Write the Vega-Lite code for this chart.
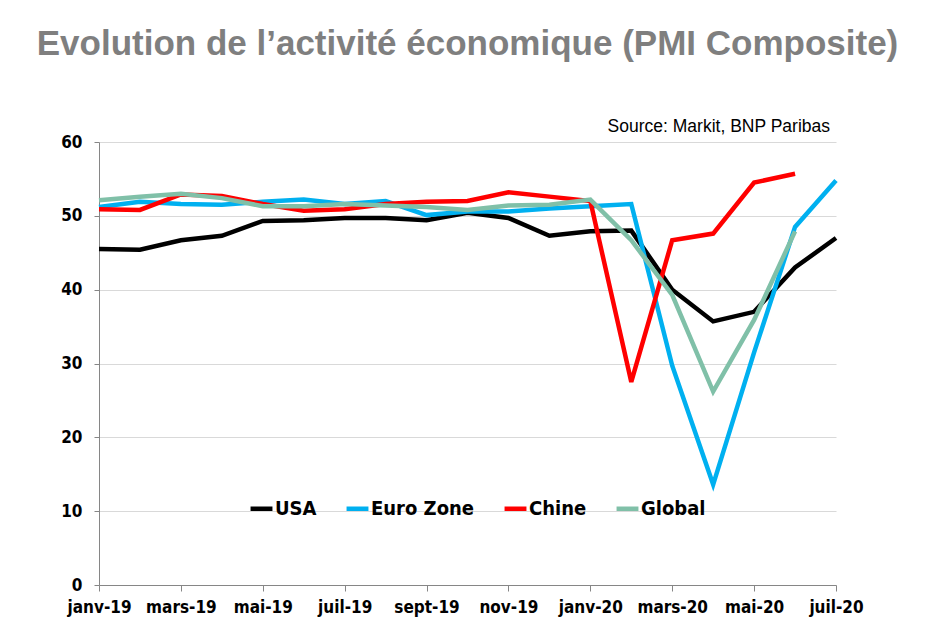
{
  "$schema": "https://vega.github.io/schema/vega-lite/v6.json",
  "width": 737,
  "height": 443,
  "autosize": "none",
  "padding": {"left": 99, "top": 142, "right": 90, "bottom": 50},
  "background": "white",
  "title": {
    "text": "Evolution de l\u2019activit\u00e9 \u00e9conomique (PMI Composite)",
    "font": "Liberation Sans",
    "fontSize": 35,
    "fontWeight": "bold",
    "color": "#7f7f7f",
    "anchor": "middle",
    "frame": "group",
    "offset": 56
  },
  "data": {"values": [
    {"m": "janv-19", "s": "USA", "v": 45.5}, {"m": "févr-19", "s": "USA", "v": 45.4}, {"m": "mars-19", "s": "USA", "v": 46.7}, {"m": "avr-19", "s": "USA", "v": 47.3}, {"m": "mai-19", "s": "USA", "v": 49.3}, {"m": "juin-19", "s": "USA", "v": 49.4}, {"m": "juil-19", "s": "USA", "v": 49.7}, {"m": "août-19", "s": "USA", "v": 49.7}, {"m": "sept-19", "s": "USA", "v": 49.4}, {"m": "oct-19", "s": "USA", "v": 50.4}, {"m": "nov-19", "s": "USA", "v": 49.7}, {"m": "déc-19", "s": "USA", "v": 47.3}, {"m": "janv-20", "s": "USA", "v": 47.9}, {"m": "févr-20", "s": "USA", "v": 48.0}, {"m": "mars-20", "s": "USA", "v": 40.0}, {"m": "avr-20", "s": "USA", "v": 35.7}, {"m": "mai-20", "s": "USA", "v": 37.0}, {"m": "juin-20", "s": "USA", "v": 43.0}, {"m": "juil-20", "s": "USA", "v": 47.0},
    {"m": "janv-19", "s": "Euro Zone", "v": 51.2}, {"m": "févr-19", "s": "Euro Zone", "v": 51.9}, {"m": "mars-19", "s": "Euro Zone", "v": 51.6}, {"m": "avr-19", "s": "Euro Zone", "v": 51.5}, {"m": "mai-19", "s": "Euro Zone", "v": 51.9}, {"m": "juin-19", "s": "Euro Zone", "v": 52.2}, {"m": "juil-19", "s": "Euro Zone", "v": 51.6}, {"m": "août-19", "s": "Euro Zone", "v": 52.0}, {"m": "sept-19", "s": "Euro Zone", "v": 50.1}, {"m": "oct-19", "s": "Euro Zone", "v": 50.6}, {"m": "nov-19", "s": "Euro Zone", "v": 50.6}, {"m": "déc-19", "s": "Euro Zone", "v": 51.0}, {"m": "janv-20", "s": "Euro Zone", "v": 51.3}, {"m": "févr-20", "s": "Euro Zone", "v": 51.6}, {"m": "mars-20", "s": "Euro Zone", "v": 29.7}, {"m": "avr-20", "s": "Euro Zone", "v": 13.6}, {"m": "mai-20", "s": "Euro Zone", "v": 31.5}, {"m": "juin-20", "s": "Euro Zone", "v": 48.5}, {"m": "juil-20", "s": "Euro Zone", "v": 54.8},
    {"m": "janv-19", "s": "Chine", "v": 50.9}, {"m": "févr-19", "s": "Chine", "v": 50.8}, {"m": "mars-19", "s": "Chine", "v": 52.9}, {"m": "avr-19", "s": "Chine", "v": 52.7}, {"m": "mai-19", "s": "Chine", "v": 51.6}, {"m": "juin-19", "s": "Chine", "v": 50.7}, {"m": "juil-19", "s": "Chine", "v": 50.9}, {"m": "août-19", "s": "Chine", "v": 51.6}, {"m": "sept-19", "s": "Chine", "v": 51.9}, {"m": "oct-19", "s": "Chine", "v": 52.0}, {"m": "nov-19", "s": "Chine", "v": 53.2}, {"m": "déc-19", "s": "Chine", "v": 52.6}, {"m": "janv-20", "s": "Chine", "v": 52.0}, {"m": "févr-20", "s": "Chine", "v": 27.5}, {"m": "mars-20", "s": "Chine", "v": 46.7}, {"m": "avr-20", "s": "Chine", "v": 47.6}, {"m": "mai-20", "s": "Chine", "v": 54.5}, {"m": "juin-20", "s": "Chine", "v": 55.7},
    {"m": "janv-19", "s": "Global", "v": 52.1}, {"m": "févr-19", "s": "Global", "v": 52.6}, {"m": "mars-19", "s": "Global", "v": 53.0}, {"m": "avr-19", "s": "Global", "v": 52.4}, {"m": "mai-19", "s": "Global", "v": 51.3}, {"m": "juin-19", "s": "Global", "v": 51.3}, {"m": "juil-19", "s": "Global", "v": 51.6}, {"m": "août-19", "s": "Global", "v": 51.4}, {"m": "sept-19", "s": "Global", "v": 51.2}, {"m": "oct-19", "s": "Global", "v": 50.8}, {"m": "nov-19", "s": "Global", "v": 51.4}, {"m": "déc-19", "s": "Global", "v": 51.5}, {"m": "janv-20", "s": "Global", "v": 52.2}, {"m": "févr-20", "s": "Global", "v": 46.7}, {"m": "mars-20", "s": "Global", "v": 39.3}, {"m": "avr-20", "s": "Global", "v": 26.2}, {"m": "mai-20", "s": "Global", "v": 35.9}, {"m": "juin-20", "s": "Global", "v": 47.9}
  ]},
  "layer": [
    {
      "mark": {"type": "line", "strokeCap": "butt", "strokeJoin": "miter"},
      "encoding": {
        "x": {
          "field": "m", "type": "ordinal",
          "sort": ["janv-19", "févr-19", "mars-19", "avr-19", "mai-19", "juin-19", "juil-19", "août-19", "sept-19", "oct-19", "nov-19", "déc-19", "janv-20", "févr-20", "mars-20", "avr-20", "mai-20", "juin-20", "juil-20"],
          "scale": {"type": "point", "padding": 0},
          "axis": {
            "title": null,
            "values": ["janv-19", "mars-19", "mai-19", "juil-19", "sept-19", "nov-19", "janv-20", "mars-20", "mai-20", "juil-20"],
            "labelAngle": 0,
            "labelFont": "DejaVu Sans Condensed",
            "labelFontWeight": "bold",
            "labelFontSize": 17,
            "labelColor": "#000000",
            "labelPadding": 8,
            "domainColor": "#868686",
            "tickColor": "#868686",
            "tickSize": 6,
            "grid": false
          }
        },
        "y": {
          "field": "v", "type": "quantitative",
          "scale": {"domain": [0, 60]},
          "axis": {
            "title": null,
            "values": [0, 10, 20, 30, 40, 50, 60],
            "labelFont": "DejaVu Sans Condensed",
            "labelFontWeight": "bold",
            "labelFontSize": 17,
            "labelColor": "#000000",
            "labelPadding": 12,
            "domainColor": "#868686",
            "tickColor": "#868686",
            "tickSize": 5,
            "gridColor": "#d9d9d9",
            "gridWidth": 1
          }
        },
        "color": {
          "field": "s", "type": "nominal",
          "scale": {"domain": ["USA", "Euro Zone", "Chine", "Global"], "range": ["#000000", "#00b0f0", "#ff0000", "#80c0a8"]},
          "legend": {
            "title": null,
            "orient": "none",
            "direction": "horizontal",
            "legendX": 149,
            "legendY": 353,
            "symbolType": "stroke",
            "symbolSize": 480,
            "symbolStrokeWidth": 4,
            "labelFont": "DejaVu Sans Condensed",
            "labelFontWeight": "bold",
            "labelFontSize": 20,
            "labelColor": "#000000",
            "labelOffset": 0,
            "columnPadding": 20,
            "labelLimit": 300
          }
        },
        "strokeWidth": {
          "field": "s", "type": "nominal",
          "scale": {"domain": ["USA", "Euro Zone", "Chine", "Global"], "range": [4.5, 4.5, 3.5, 5]},
          "legend": null
        }
      }
    },
    {
      "data": {"values": [{}]},
      "mark": {"type": "text", "align": "right", "baseline": "middle", "font": "Liberation Sans", "fontSize": 17.5, "color": "#000000", "dx": -6},
      "encoding": {
        "x": {"datum": "juil-20"},
        "y": {"datum": 62},
        "text": {"value": "Source: Markit, BNP Paribas"}
      }
    }
  ],
  "config": {"view": {"stroke": null}}
}
